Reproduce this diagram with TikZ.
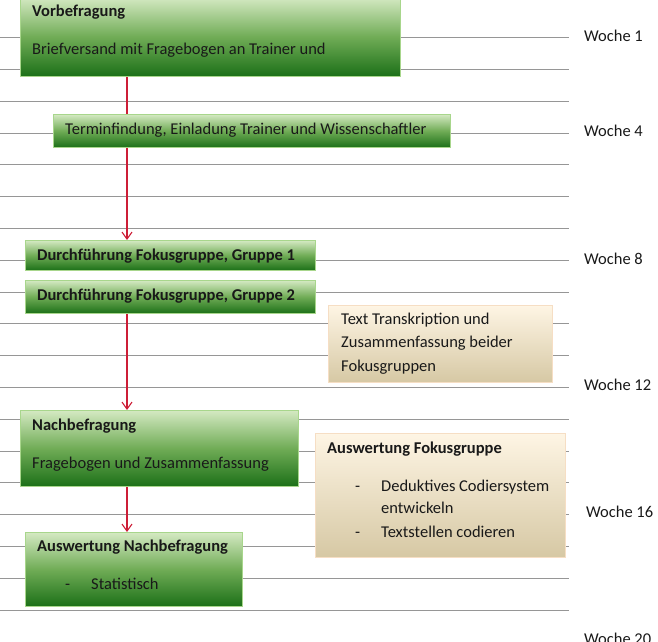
\documentclass[tikz,border=0pt]{standalone}
\usepackage{fontspec}
\setmainfont{Carlito}
\usetikzlibrary{arrows.meta}
\definecolor{gtop}{RGB}{212,233,194}
\definecolor{gbot}{RGB}{28,112,24}
\definecolor{gmid}{RGB}{112,172,86}
\definecolor{gborder}{RGB}{168,214,140}
\definecolor{btop}{RGB}{254,245,228}
\definecolor{bbot}{RGB}{214,200,164}
\definecolor{bborder}{RGB}{246,222,196}
\definecolor{gridgray}{RGB}{150,150,150}
\definecolor{arrowred}{RGB}{205,30,55}
\pgfdeclarelayer{background}
\pgfsetlayers{background,main}
\tikzset{
  greenbox/.style={draw=gborder, line width=0.8pt, top color=gtop, bottom color=gbot, middle color=gmid, inner sep=0pt, anchor=north west},
  beigebox/.style={draw=bborder, line width=0.8pt, top color=btop, bottom color=bbot, inner sep=0pt, anchor=north west},
  gridline/.style={draw=gridgray, line width=0.9pt},
  flowarrow/.style={draw=arrowred, line width=1.1pt, -{Straight Barb[length=7pt,width=10pt]}},
  txt/.style={anchor=west, inner sep=0pt, text height=11.5pt, text depth=4pt, font=\fontsize{16.5}{20}\selectfont, text=black!90},
  btxt/.style={txt, font=\fontsize{16.5}{20}\selectfont\bfseries},
  week/.style={anchor=west, inner sep=0pt, text height=11.5pt, text depth=4pt, font=\fontsize{16.5}{20}\selectfont, text=black!90}
}
\begin{document}
\begin{tikzpicture}[x=1pt,y=-1pt]
\useasboundingbox (0,0) rectangle (658,641);
\clip (0,0) rectangle (658,641);
\coordinate (axis) at (127,0);
% boxes
\node[greenbox, minimum width=380pt, minimum height=79pt] (vorb) at (20,-3) {};
\node[greenbox, minimum width=397pt, minimum height=33pt] (termin) at (53,114) {};
\node[greenbox, minimum width=290pt, minimum height=30pt] (d1) at (25,240) {};
\node[greenbox, minimum width=290pt, minimum height=33pt] (d2) at (25,280) {};
\node[beigebox, minimum width=224pt, minimum height=77pt] (trans) at (328,305) {};
\node[greenbox, minimum width=278pt, minimum height=76pt] (nach) at (20,410) {};
\node[beigebox, minimum width=250pt, minimum height=124pt] (ausfok) at (315,433) {};
\node[greenbox, minimum width=217pt, minimum height=74pt] (ausnach) at (25,532) {};
% texts
\node[btxt] (t1) at (32,13) {Vorbefragung};
\node[txt] (t2) at (32,51) {Briefversand mit Fragebogen an Trainer und};
\node[txt] (t3) at (65,131) {Terminfindung, Einladung Trainer und Wissenschaftler};
\node[btxt] (t4) at (37,257) {Durchführung Fokusgruppe, Gruppe 1};
\node[btxt] (t5) at (37,297) {Durchführung Fokusgruppe, Gruppe 2};
\node[txt] (t6) at (341,321) {Text Transkription und};
\node[txt] (t7) at (341,344) {Zusammenfassung beider};
\node[txt] (t8) at (341,368) {Fokusgruppen};
\node[btxt] (t9) at (32,427) {Nachbefragung};
\node[txt] (t10) at (32,465) {Fragebogen und Zusammenfassung};
\node[btxt] (t11) at (327,450) {Auswertung Fokusgruppe};
\node[txt] (t12) at (355,488) {-};
\node[txt] (t13) at (381,488) {Deduktives Codiersystem};
\node[txt] (t14) at (381,510) {entwickeln};
\node[txt] (t15) at (355,534) {-};
\node[txt] (t16) at (381,534) {Textstellen codieren};
\node[btxt] (t17) at (37,548) {Auswertung Nachbefragung};
\node[txt] (t18) at (65,586) {-};
\node[txt] (t19) at (91,586) {Statistisch};
% weeks
\node[week] (w1) at (584,38) {Woche 1};
\node[week] (w4) at (584,133) {Woche 4};
\node[week] (w8) at (584,261) {Woche 8};
\node[week] (w12) at (584,387) {Woche 12};
\node[week] (w16) at (586,514) {Woche 16};
\node[week] (w20) at (584,641) {Woche 20};
\begin{pgfonlayer}{background}
\foreach \k in {0,...,18}
  \draw[gridline] (0,{37.7+31.8*\k}) -- (569,{37.7+31.8*\k});
\draw[flowarrow] (vorb.south -| axis) -- (d1.north -| axis);
\draw[flowarrow] (d2.south -| axis) -- (nach.north -| axis);
\draw[flowarrow] (nach.south -| axis) -- (ausnach.north -| axis);
\end{pgfonlayer}
\end{tikzpicture}
\end{document}
